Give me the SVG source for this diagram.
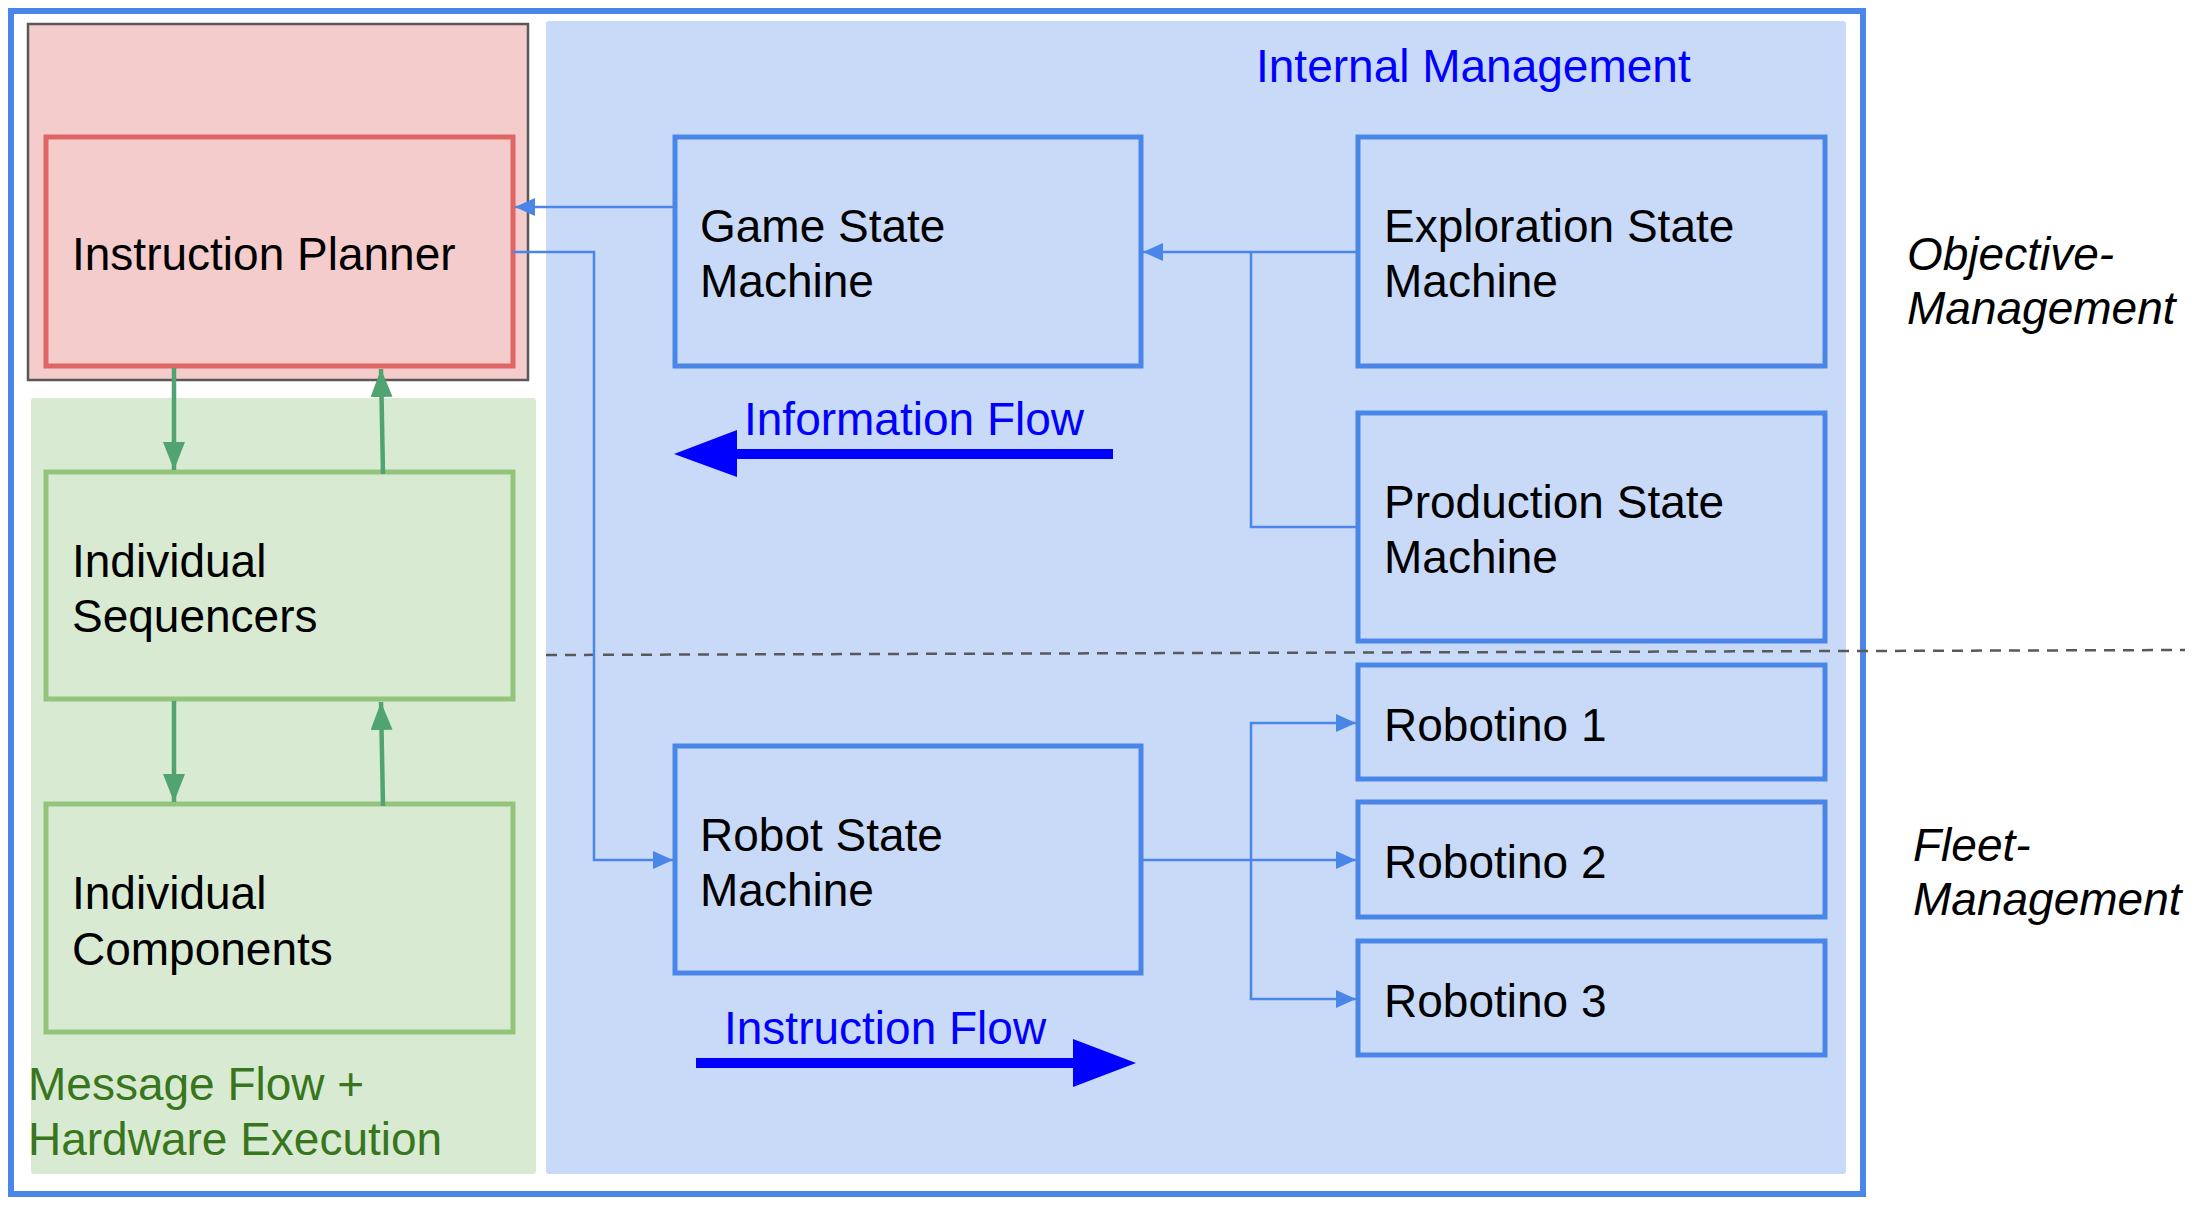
<svg xmlns="http://www.w3.org/2000/svg" width="2196" height="1208" viewBox="0 0 2196 1208">
<defs>
<style>
text{font-family:"Liberation Sans",Arial,sans-serif;font-size:46px;fill:#000}
.it{font-style:italic}
.blue{fill:#0000ff}
.green{fill:#38761d}
.node{fill:#c9daf8;stroke:#4a86e8;stroke-width:5}
.gnode{fill:#d9ead3;stroke:#93c47d;stroke-width:5}
.conn{fill:none;stroke:#4a86e8;stroke-width:2.5}
.gconn{fill:none;stroke:#52a372;stroke-width:4.5}
</style>
<marker id="ah" markerUnits="userSpaceOnUse" markerWidth="22" markerHeight="20" refX="20" refY="9" orient="auto">
<path d="M0,0 L20,9 L0,18 Z" fill="#4a86e8"/>
</marker>
<marker id="gh" markerUnits="userSpaceOnUse" markerWidth="30" markerHeight="24" refX="28" refY="11" orient="auto">
<path d="M0,0 L28,11 L0,22 Z" fill="#52a372"/>
</marker>
</defs>
<rect width="2196" height="1208" fill="#fff"/>
<g id="outer">
<rect x="11" y="11" width="1852" height="1183" fill="none" stroke="#4a86e8" stroke-width="6"/>
</g>
<g id="internal-management">
<rect x="546" y="21" width="1300" height="1153" rx="3" fill="#c9daf8"/>
<text x="1256" y="82" class="blue">Internal Management</text>
</g>
<g id="planner-area">
<rect x="28" y="24" width="500" height="356" fill="#f4cccc" stroke="#595959" stroke-width="2.5"/>
</g>
<g id="message-flow-area">
<rect x="31" y="398" width="505" height="776" rx="3" fill="#d9ead3"/>
<text x="28" y="1100" class="green">Message Flow +</text>
<text x="28" y="1155" class="green">Hardware Execution</text>
</g>
<line x1="546" y1="655" x2="2185" y2="650" stroke="#595959" stroke-width="2.5" stroke-dasharray="11,8"/>
<g id="instruction-planner">
<rect x="46" y="137" width="467" height="229" fill="#f4cccc" stroke="#e06666" stroke-width="5"/>
<text x="72" y="270">Instruction Planner</text>
</g>
<g id="individual-sequencers">
<rect x="46" y="472" width="467" height="227" class="gnode"/>
<text x="72" y="577">Individual</text>
<text x="72" y="632">Sequencers</text>
</g>
<g id="individual-components">
<rect x="46" y="804" width="467" height="228" class="gnode"/>
<text x="72" y="909">Individual</text>
<text x="72" y="965">Components</text>
</g>
<g id="game-state-machine">
<rect x="675" y="137" width="466" height="229" class="node"/>
<text x="700" y="242">Game State</text>
<text x="700" y="297">Machine</text>
</g>
<g id="exploration-state-machine">
<rect x="1358" y="137" width="467" height="229" class="node"/>
<text x="1384" y="242">Exploration State</text>
<text x="1384" y="297">Machine</text>
</g>
<g id="production-state-machine">
<rect x="1358" y="413" width="467" height="228" class="node"/>
<text x="1384" y="518">Production State</text>
<text x="1384" y="573">Machine</text>
</g>
<g id="robot-state-machine">
<rect x="675" y="746" width="466" height="227" class="node"/>
<text x="700" y="851">Robot State</text>
<text x="700" y="906">Machine</text>
</g>
<g id="robotino-1">
<rect x="1358" y="665" width="467" height="114" class="node"/>
<text x="1384" y="741">Robotino 1</text>
</g>
<g id="robotino-2">
<rect x="1358" y="802" width="467" height="115" class="node"/>
<text x="1384" y="878">Robotino 2</text>
</g>
<g id="robotino-3">
<rect x="1358" y="941" width="467" height="114" class="node"/>
<text x="1384" y="1017">Robotino 3</text>
</g>
<g id="labels">
<text x="1907" y="270" class="it">Objective-</text>
<text x="1907" y="324" class="it">Management</text>
<text x="1913" y="861" class="it">Fleet-</text>
<text x="1913" y="915" class="it">Management</text>
<text x="744" y="435" class="blue">Information Flow</text>
<text x="724" y="1044" class="blue">Instruction Flow</text>
</g>
<g id="connectors">
<path class="conn" d="M675,207 H515" marker-end="url(#ah)"/>
<path class="conn" d="M513,252 H594 V860 H673" marker-end="url(#ah)"/>
<path class="conn" d="M1358,252 H1143" marker-end="url(#ah)"/>
<path class="conn" d="M1358,527 H1251 V252"/>
<path class="conn" d="M1141,860 H1356" marker-end="url(#ah)"/>
<path class="conn" d="M1251,860 V723 H1356" marker-end="url(#ah)"/>
<path class="conn" d="M1251,860 V999 H1356" marker-end="url(#ah)"/>
<path class="gconn" d="M174,368 V470" marker-end="url(#gh)"/>
<path class="gconn" d="M383,474 L381,369" marker-end="url(#gh)"/>
<path class="gconn" d="M174,701 V802" marker-end="url(#gh)"/>
<path class="gconn" d="M383,806 L381,702" marker-end="url(#gh)"/>
<path d="M1113,449 H737 V430 L674,454 L737,477 V459 H1113 Z" fill="#0000ff"/>
<path d="M696,1058 H1073 V1039 L1136,1063 L1073,1087 V1068 H696 Z" fill="#0000ff"/>
</g>
</svg>
